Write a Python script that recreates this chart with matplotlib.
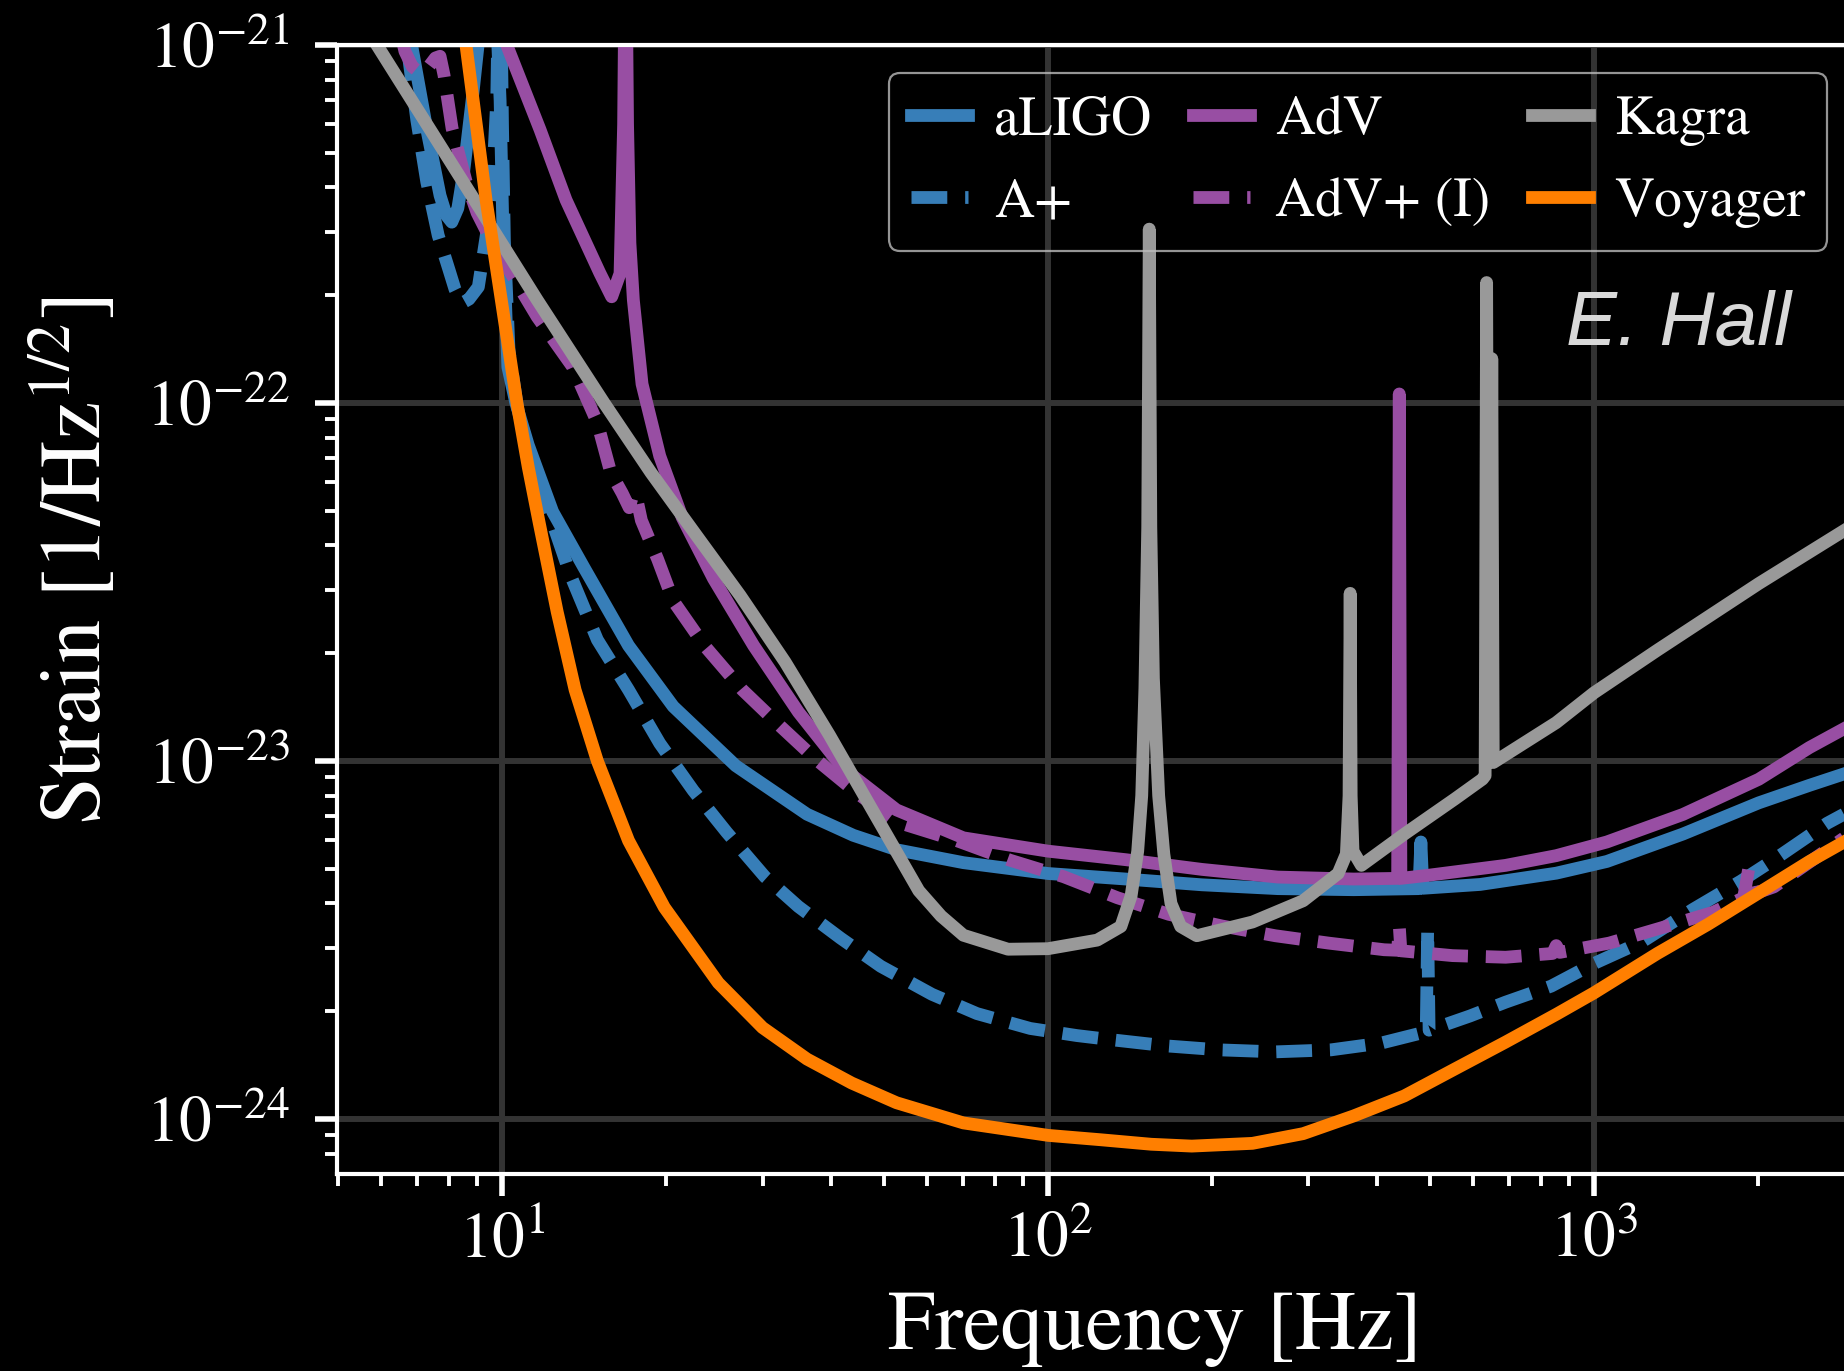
import numpy as np
import matplotlib
matplotlib.use('Agg')
import matplotlib.pyplot as plt
from matplotlib.ticker import LogLocator, NullFormatter

plt.rcParams['font.family'] = 'serif'
plt.rcParams['font.serif'] = ['STIXGeneral', 'Liberation Serif', 'DejaVu Serif']
plt.rcParams['mathtext.fontset'] = 'stix'

# ---------------- data ----------------
aligo_f = [6.83, 7.3, 7.7, 7.9, 8.09, 8.3, 8.5, 8.86, 9.1, 9.45, 9.8, 9.92, 10.04,
           10.25, 10.6, 11.17, 12.38, 14.13, 17.05, 20.59, 26.8, 36.2, 44.0, 52.8,
           70.0, 100, 138.9, 191.3, 263.6, 363.1, 478, 482, 486, 619, 853, 1056, 1455,
           2004, 2481, 2869]
aligo_h = [1.0e-21, 5.7e-22, 3.8e-22, 3.35e-22, 3.2e-22, 3.5e-22, 4.38e-22, 7.5e-22,
           1.1e-21, 3.0e-21, 1.1e-21, 7.0e-22, 3.0e-22, 1.26e-22, 1.0e-22, 7.63e-23,
           4.97e-23, 3.47e-23, 2.10e-23, 1.42e-23, 9.7e-24, 7.1e-24, 6.2e-24, 5.65e-24,
           5.2e-24, 4.85e-24, 4.68e-24, 4.51e-24, 4.40e-24, 4.37e-24, 4.40e-24,
           5.94e-24, 4.41e-24, 4.52e-24, 4.86e-24, 5.24e-24, 6.25e-24, 7.64e-24,
           8.55e-24, 9.2e-24]

aplus_f = [6.7, 6.98, 7.28, 7.64, 8.0, 8.2, 8.44, 8.7, 9.05, 9.37, 9.64, 9.78, 9.9,
           10.02, 10.1, 10.3, 10.7, 11.3, 12.43, 13.35, 14.95, 17.05, 19.45, 22.4,
           25.8, 30.3, 34.9, 41.7, 49.4, 61.3, 74.1, 92.8, 113, 133, 165, 206, 261,
           330, 408, 484, 493, 496, 499, 593, 689, 835, 1001, 1226, 1518, 1859, 2136,
           2674, 2869]
aplus_h = [1.0e-21, 6.18e-22, 4.15e-22, 2.94e-22, 2.35e-22, 2.08e-22, 1.90e-22,
           1.95e-22, 2.11e-22, 2.98e-22, 4.57e-22, 7.0e-22, 2.5e-21, 6.0e-22,
           2.85e-22, 1.4e-22, 9.5e-23, 7.0e-23, 4.54e-23, 3.3e-23, 2.18e-23,
           1.58e-23, 1.12e-23, 8.27e-24, 6.32e-24, 4.75e-24, 3.92e-24, 3.20e-24,
           2.67e-24, 2.23e-24, 1.97e-24, 1.79e-24, 1.71e-24, 1.66e-24, 1.60e-24,
           1.56e-24, 1.54e-24, 1.56e-24, 1.63e-24, 1.74e-24, 1.76e-24, 3.41e-24,
           1.77e-24, 1.94e-24, 2.12e-24, 2.35e-24, 2.72e-24, 3.13e-24, 3.85e-24,
           4.62e-24, 5.3e-24, 6.7e-24, 7.1e-24]

adv_f = [10.2, 11.74, 13.1, 15.1, 15.88, 16.45, 16.7, 16.84, 16.98, 17.15, 17.4,
         18.05, 19.45, 21.38, 24.4, 28.9, 34.9, 42.1, 52.8, 70.0, 100, 138.9, 191.3,
         263.6, 363.1, 437, 440, 443, 500, 689, 853, 1056, 1455, 2004, 2481, 2869]
adv_h = [1.0e-21, 5.8e-22, 3.69e-22, 2.31e-22, 1.98e-22, 2.3e-22, 6.0e-22, 2.5e-21,
         6.0e-22, 2.8e-22, 1.94e-22, 1.13e-22, 7.11e-23, 4.79e-23, 3.23e-23,
         2.10e-23, 1.37e-23, 9.55e-24, 7.30e-24, 6.10e-24, 5.6e-24, 5.3e-24,
         4.98e-24, 4.74e-24, 4.68e-24, 4.7e-24, 1.06e-22, 4.7e-24, 4.80e-24,
         5.11e-24, 5.44e-24, 5.94e-24, 7.09e-24, 8.89e-24, 1.09e-23, 1.23e-23]

advp_f = [6.55, 6.64, 6.85, 7.08, 7.3, 7.55, 7.7, 7.83, 8.1, 8.59, 9.0, 9.6, 10.56,
          11.6, 13.48, 14.95, 15.82, 16.6, 17.1, 17.4, 17.7, 18.0, 19.28, 20.59, 23.48,
          27.56, 32.35, 37.6, 44.1, 52.3, 68.1, 85.3, 106.9, 134, 166.5, 208.4, 260.8,
          326.4, 412.8, 437, 440, 443, 550.7, 689, 840, 853, 866, 1067, 1321, 1654,
          1880, 1920, 1960, 2136, 2674, 2869]
advp_h = [1.05e-21, 9.6e-22, 8.7e-22, 8.35e-22, 8.6e-22, 9.2e-22, 9.3e-22, 8.24e-22,
          5.86e-22, 4.17e-22, 3.4e-22, 2.8e-22, 2.21e-22, 1.74e-22, 1.26e-22,
          8.81e-23, 6.39e-23, 5.6e-23, 5.1e-23, 5.6e-23, 5.3e-23, 4.7e-23, 3.66e-23,
          2.80e-23, 2.10e-23, 1.58e-23, 1.25e-23, 1.01e-23, 8.27e-24, 6.79e-24,
          5.99e-24, 5.28e-24, 4.75e-24, 4.15e-24, 3.73e-24, 3.46e-24, 3.25e-24,
          3.10e-24, 2.97e-24, 2.96e-24, 3.46e-24, 2.95e-24, 2.86e-24, 2.83e-24,
          2.9e-24, 3.05e-24, 2.92e-24, 3.10e-24, 3.41e-24, 3.78e-24, 4.15e-24,
          4.98e-24, 4.25e-24, 4.45e-24, 5.65e-24, 6.09e-24]

kagra_f = [5.9, 9.1, 11.6, 15.38, 18.74, 22.62, 27.3, 33.0, 39.8, 48.0, 58.0, 63.7,
           70.0, 84.5, 100, 123.1, 136, 142, 146, 148.5, 150.5, 152.3, 153.3, 154.3,
           156, 159.5, 163, 168, 175, 187.3, 236.9, 293.3, 340, 352, 356, 357.7,
           359.2, 362, 375, 449.5, 556.6, 625, 632, 636, 640, 646, 650, 654, 853,
           1000, 1307, 2004, 2871]
kagra_h = [1.0e-21, 3.5e-22, 1.94e-22, 1.0e-22, 6.39e-23, 4.30e-23, 2.90e-23,
           1.89e-23, 1.18e-23, 7.17e-24, 4.34e-24, 3.69e-24, 3.26e-24, 2.98e-24,
           2.99e-24, 3.16e-24, 3.45e-24, 4.2e-24, 5.6e-24, 8.0e-24, 1.6e-23, 4.5e-23,
           3.06e-22, 4.5e-23, 1.7e-23, 8.0e-24, 5.5e-24, 4.0e-24, 3.45e-24, 3.25e-24,
           3.55e-24, 4.07e-24, 4.85e-24, 5.5e-24, 8.0e-24, 2.94e-23, 8.0e-24, 5.6e-24,
           5.11e-24, 6.25e-24, 7.84e-24, 8.9e-24, 9.1e-24, 2.17e-22, 1.0e-23, 1.0e-23,
           1.33e-22, 9.9e-24, 1.28e-23, 1.55e-23, 2.04e-23, 3.13e-23, 4.4e-23]

voy_f = [8.4, 8.59, 9.35, 9.97, 10.65, 11.17, 11.70, 12.62, 13.61, 14.95, 17.05,
         19.83, 24.9, 30.0, 36.2, 43.7, 52.8, 70.0, 100, 124.9, 154.6, 183.4, 236.9,
         293.3, 363.1, 449.5, 556.6, 689, 853, 1000, 1307, 1619, 2004, 2481, 2871]
voy_h = [1.1e-21, 1.0e-21, 3.69e-22, 1.94e-22, 1.0e-22, 6.62e-23, 4.62e-23, 2.61e-23,
         1.58e-23, 1.0e-23, 5.99e-24, 3.90e-24, 2.40e-24, 1.80e-24, 1.47e-24,
         1.26e-24, 1.11e-24, 9.75e-25, 9.0e-25, 8.75e-25, 8.5e-25, 8.4e-25, 8.55e-25,
         9.1e-25, 1.02e-24, 1.16e-24, 1.38e-24, 1.64e-24, 1.96e-24, 2.25e-24,
         2.9e-24, 3.5e-24, 4.28e-24, 5.24e-24, 5.94e-24]

labels = ['aLIGO', 'A+', 'AdV', 'AdV+ (I)', 'Kagra', 'Voyager']
x_ticks = [10, 100, 1000]
y_ticks = [1e-24, 1e-23, 1e-22, 1e-21]

# ---------------- figure ----------------
W, H = 1844, 1371
fig = plt.figure(figsize=(W / 100, H / 100), dpi=100, facecolor='black')
L, R, T, B = 337, 1844, 45, 1174
ax = fig.add_axes([L / W, 1 - B / H, (R - L) / W, (B - T) / H])
ax.set_facecolor('black')

blue, purple, grey, orange = '#377eb8', '#984ea3', '#999999', '#ff7f00'
lw = 9.2
dash = (2.8, 1.4)
ax.plot(aligo_f, aligo_h, color=blue, lw=lw, label=labels[0])
ax.plot(aplus_f, aplus_h, color=blue, lw=lw, ls='--', dashes=dash, label=labels[1])
ax.plot(adv_f, adv_h, color=purple, lw=lw, label=labels[2])
ax.plot(advp_f, advp_h, color=purple, lw=lw, ls='--', dashes=dash, label=labels[3])
ax.plot(kagra_f, kagra_h, color=grey, lw=lw, label=labels[4])
ax.plot(voy_f, voy_h, color=orange, lw=lw, label=labels[5])

ax.set_xscale('log')
ax.set_yscale('log')
ax.set_xlim(4.986, 2871)
ax.set_ylim(7.02e-25, 1e-21)

ax.set_xticks(x_ticks)
ax.set_yticks(y_ticks)
ax.xaxis.set_minor_locator(LogLocator(base=10, subs=np.arange(2, 10), numticks=100))
ax.yaxis.set_minor_locator(LogLocator(base=10, subs=np.arange(2, 10), numticks=100))
ax.xaxis.set_minor_formatter(NullFormatter())
ax.yaxis.set_minor_formatter(NullFormatter())

ax.grid(True, which='major', color='#333333', lw=4.3)
ax.set_axisbelow(True)

ax.tick_params(which='major', length=16, width=4, direction='out', colors='white',
               labelsize=47)
ax.tick_params(which='minor', length=8.5, width=2.8, direction='out', colors='white')
ax.tick_params(axis='x', which='major', pad=11)
ax.tick_params(axis='y', which='major', pad=18)

for s in ['left', 'bottom', 'top']:
    ax.spines[s].set_color('white')
    ax.spines[s].set_linewidth(3)
ax.spines['right'].set_visible(False)

ax.set_xlabel('Frequency [Hz]', color='white', fontsize=61, va='baseline')
ax.set_ylabel('Strain [1/Hz$^{1/2}$]', color='white', fontsize=62)
ax.xaxis.set_label_coords(0.5426, -0.155)
ax.yaxis.set_label_coords(-0.144, 0.543)

leg = ax.legend(ncol=3, loc='upper right', bbox_to_anchor=(0.989, 0.975),
                borderaxespad=0, fontsize=40, handlelength=1.025, handletextpad=0.46,
                columnspacing=0.745, borderpad=0.4, labelspacing=0.56, fancybox=True)
frame = leg.get_frame()
frame.set_facecolor('none')
frame.set_edgecolor('#bbbbbb')
frame.set_linewidth(1.6)
for t in leg.get_texts():
    t.set_color('white')

ax.text(0.965, 0.734, 'E. Hall', transform=ax.transAxes, ha='right', va='baseline',
        fontsize=55, style='italic', family='Liberation Sans', color='#d9d9d9')

fig.savefig('out.png', dpi=100, facecolor='black')
